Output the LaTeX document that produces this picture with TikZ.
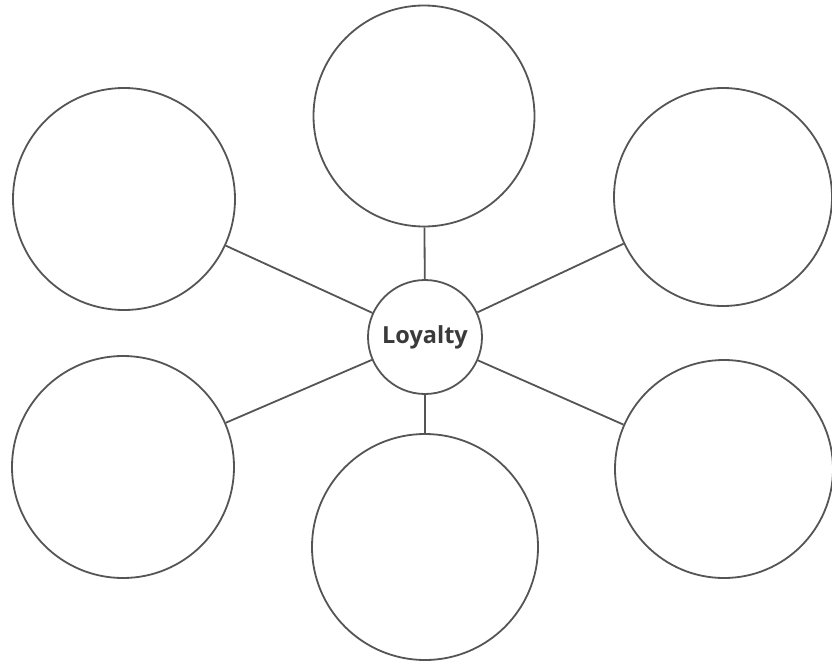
\documentclass[tikz,border=0pt]{standalone}
\usepackage{fontspec}
\setmainfont{Open Sans}
\definecolor{ink}{HTML}{555555}
\definecolor{txt}{HTML}{3A3A3A}
\begin{document}
\begin{tikzpicture}[x=1pt,y=-1pt,
  bubble/.style={circle,draw=ink,line width=1.8pt,fill=white,inner sep=0pt},
  spoke/.style={draw=ink,line width=1.8pt}]
\useasboundingbox (0,0) rectangle (832,661);
\fill[white] (0,0) rectangle (832,661);
\node[bubble,minimum size=114pt,font=\fontsize{23.5}{25}\selectfont\bfseries,text=txt] (c) at (425,337) {Loyalty};
\node[bubble,minimum size=221pt] (t)  at (424,116) {};
\node[bubble,minimum size=222pt] (tl) at (124,199) {};
\node[bubble,minimum size=218pt] (tr) at (723,197) {};
\node[bubble,minimum size=222pt] (bl) at (123,467) {};
\node[bubble,minimum size=226pt] (b)  at (425,547) {};
\node[bubble,minimum size=218pt] (br) at (724,469) {};
\draw[spoke] (c) -- (t);
\draw[spoke] (c) -- (tl);
\draw[spoke] (c) -- (tr);
\draw[spoke] (c) -- (bl);
\draw[spoke] (c) -- (b);
\draw[spoke] (c) -- (br);
\end{tikzpicture}
\end{document}
